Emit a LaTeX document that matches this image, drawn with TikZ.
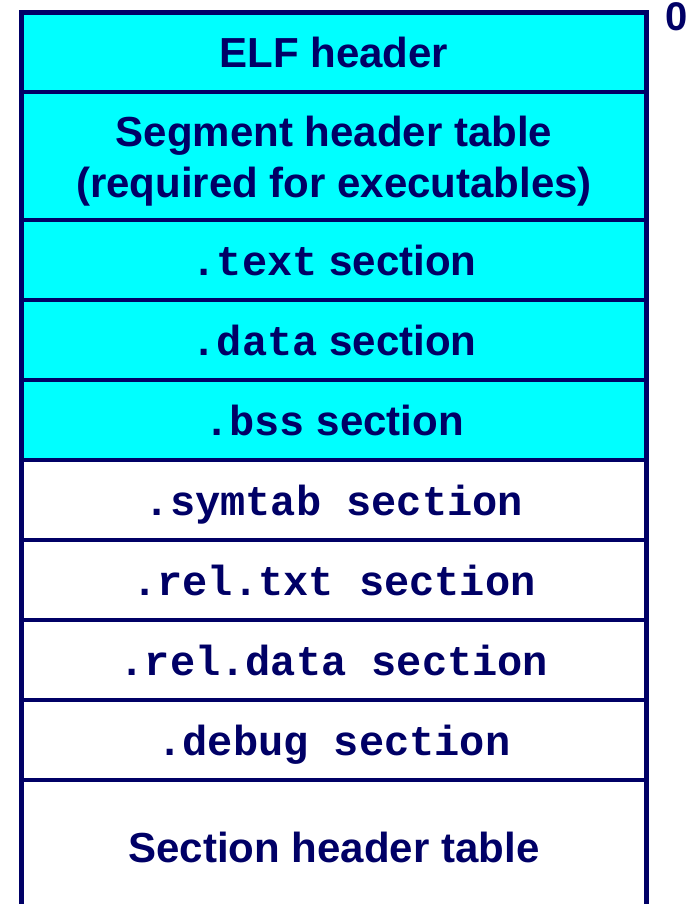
\documentclass[tikz,border=0pt]{standalone}
\usepackage{fontspec}
\setmainfont{Liberation Sans}
\setmonofont{Liberation Mono}
\usetikzlibrary{positioning}
\definecolor{elfnavy}{RGB}{0,0,102}
\definecolor{elfcyan}{RGB}{0,255,255}
\tikzset{
  row/.style = {draw=elfnavy, line width=4.6pt, fill=white, text=elfnavy,
                minimum width=625pt, minimum height=80pt,
                inner sep=0pt, outer sep=0pt, align=center,
                font=\bfseries\fontsize{42}{51}\selectfont},
  line/.style = {row, text height=30pt, text depth=0pt},
  loaded/.style = {fill=elfcyan},
}

\begin{document}
\begin{tikzpicture}[x=1pt,y=-1pt]
  \useasboundingbox (0,0) rectangle (698,904);
  \clip (0,0) rectangle (698,904);
  % loaded into memory
  \node[line, loaded, minimum height=79.5pt, anchor=north west] (elf) at (21.5,12.5) {ELF header};
  \node[row, loaded, minimum height=128pt, text height=82pt, text depth=0pt, below=0pt of elf] (seg) {Segment header table\\(required for executables)};
  \node[line, loaded, below=0pt of seg] (text) {\texttt{.text} section};
  \node[line, loaded, below=0pt of text] (data) {\texttt{.data} section};
  \node[line, loaded, below=0pt of data] (bss) {\texttt{.bss} section};
  % not loaded
  \node[line, below=0pt of bss] (symtab) {\texttt{.symtab section}};
  \node[line, below=0pt of symtab] (reltxt) {\texttt{.rel.txt section}};
  \node[line, below=0pt of reltxt] (reldata) {\texttt{.rel.data section}};
  \node[line, below=0pt of reldata] (debug) {\texttt{.debug section}};
  \node[line, minimum height=134pt, below=0pt of debug] (sht) {Section header table};
  % offset
  \node[anchor=base, text=elfnavy, inner sep=0pt, font=\bfseries\fontsize{40}{48}\selectfont] (zero) at (677,31) {0};
\end{tikzpicture}
\end{document}
